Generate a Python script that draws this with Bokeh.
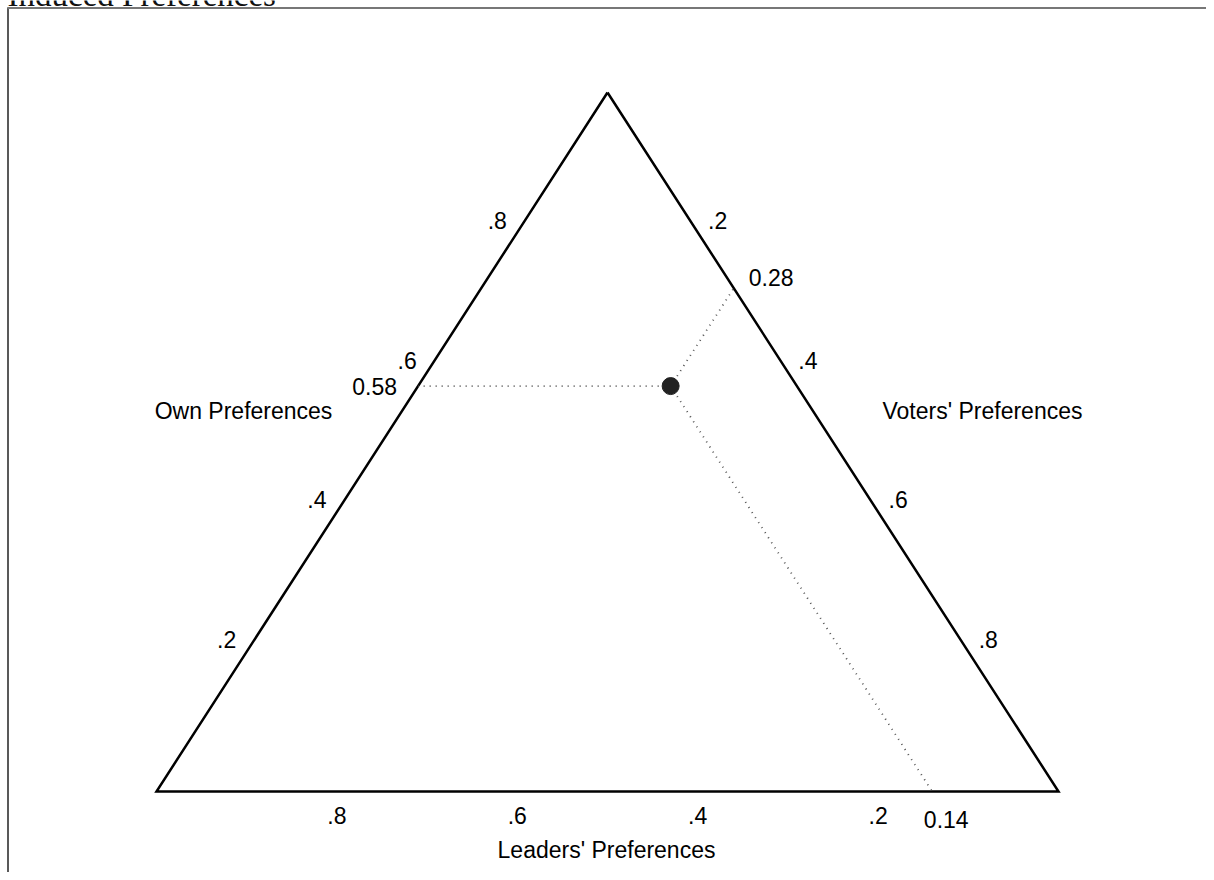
from bokeh.plotting import figure
from bokeh.models import Range1d
from bokeh.core.properties import value
from bokeh.embed import file_html
from bokeh.resources import INLINE

# ---- data ----
title_text = "Induced Preferences"
axis_names = ["Own Preferences", "Voters' Preferences", "Leaders' Preferences"]
tick_values = [0.2, 0.4, 0.6, 0.8]
tick_labels = [".2", ".4", ".6", ".8"]
point_own = 0.58
point_voters = 0.28
point_leaders = 0.14
point_labels = ["0.58", "0.28", "0.14"]

# ---- geometry (pixel layout of the drawing) ----
PW, PH = 1206, 872
X0, XW, Y0, YH = 156.0, 902.0, 791.0, 699.0


def dx(sx):
    return (sx - X0) / XW


def dy(sy):
    return (Y0 - sy) / YH


def tern(o, v, l):
    # own -> top vertex, voters -> bottom-right, leaders -> bottom-left
    s = o + v + l
    o, v = o / s, v / s
    return v + o / 2.0, o


FONT = value("Liberation Sans")
FS = "23px"

p = figure(width=PW, height=PH, output_backend="svg", toolbar_location=None,
           x_range=Range1d(dx(0), dx(PW)), y_range=Range1d(dy(PH), dy(0)),
           min_border=0, outline_line_color=None)
p.axis.visible = False
p.grid.visible = False
p.background_fill_color = "white"
p.border_fill_color = "white"

# page box and cut-off title
p.line([dx(7.5), dx(7.5)], [dy(7), dy(PH + 5)], line_color="#222222", line_width=1.5)
p.line([dx(7), dx(PW + 5)], [dy(7.5), dy(7.5)], line_color="#777777", line_width=2)
p.text([dx(7)], [dy(-6)], text=[title_text], text_font=value("Liberation Serif"),
       text_font_size="33px", text_baseline="middle", text_align="left",
       text_color="#111111")

# triangle
verts = [tern(1, 0, 0), tern(0, 1, 0), tern(0, 0, 1), tern(1, 0, 0)]
p.line([v[0] for v in verts], [v[1] for v in verts], line_color="black",
       line_width=2.5, line_join="miter")

# point and its guide lines
pt = tern(point_own, point_voters, point_leaders)
ends = [
    tern(point_own, 0, 1 - point_own),          # constant own -> left edge
    tern(1 - point_voters, point_voters, 0),    # constant voters -> right edge
    tern(0, 1 - point_leaders, point_leaders),  # constant leaders -> bottom edge
]
for e in ends:
    p.line([pt[0], e[0]], [pt[1], e[1]], line_color="#555555", line_width=1.8,
           line_dash="1 5")
p.scatter([pt[0]], [pt[1]], size=17, color="#222222")

# tick labels: left edge (own)
lx = [tern(t, 0, 1 - t)[0] for t in tick_values]
ly = [tern(t, 0, 1 - t)[1] for t in tick_values]
p.text(lx, ly, text=tick_labels, x_offset=-20, y_offset=-12, text_align="center",
       text_baseline="middle", text_font=FONT, text_font_size=FS, text_color="black")
# right edge (voters)
rx = [tern(1 - t, t, 0)[0] for t in tick_values]
ry = [tern(1 - t, t, 0)[1] for t in tick_values]
p.text(rx, ry, text=tick_labels, x_offset=20, y_offset=-12, text_align="center",
       text_baseline="middle", text_font=FONT, text_font_size=FS, text_color="black")
# bottom edge (leaders)
bx = [tern(0, 1 - t, t)[0] for t in tick_values]
by = [tern(0, 1 - t, t)[1] for t in tick_values]
p.text(bx, by, text=tick_labels, x_offset=0, y_offset=24, text_align="center",
       text_baseline="middle", text_font=FONT, text_font_size=FS, text_color="black")

# point value labels
p.text([ends[0][0]], [ends[0][1]], text=[point_labels[0]], x_offset=-21, y_offset=0,
       text_align="right", text_baseline="middle", text_font=FONT, text_font_size=FS,
       text_color="black")
p.text([ends[1][0]], [ends[1][1]], text=[point_labels[1]], x_offset=15, y_offset=-11,
       text_align="left", text_baseline="middle", text_font=FONT, text_font_size=FS,
       text_color="black")
p.text([ends[2][0]], [ends[2][1]], text=[point_labels[2]], x_offset=14, y_offset=28,
       text_align="center", text_baseline="middle", text_font=FONT, text_font_size=FS,
       text_color="black")

# axis titles
p.text([dx(243)], [dy(410)], text=[axis_names[0]], text_align="center",
       text_baseline="middle", text_font=FONT, text_font_size=FS, text_color="black")
p.text([dx(982)], [dy(410)], text=[axis_names[1]], text_align="center",
       text_baseline="middle", text_font=FONT, text_font_size=FS, text_color="black")
p.text([dx(606)], [dy(849)], text=[axis_names[2]], text_align="center",
       text_baseline="middle", text_font=FONT, text_font_size=FS, text_color="black")

open("out.html", "w").write(file_html(p, INLINE))
